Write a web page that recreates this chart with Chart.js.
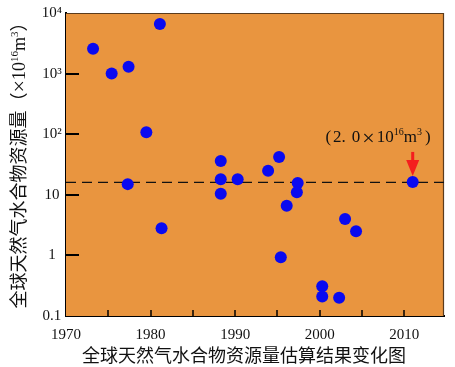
<!DOCTYPE html>
<html>
<head>
<meta charset="utf-8">
<script src="https://cdn.jsdelivr.net/npm/chart.js@4"></script>
<style>
    html, body { margin: 0; padding: 0; background: #fff; }
    #wrap { width: 455px; height: 367px; }
</style>
</head>
<body>
<div id="wrap"><canvas id="chart" width="455" height="367"></canvas></div>
<script>
// estimates (years, amount in 10^16 m3)
const years   = [1973.2, 1975.4, 1977.4, 1981.1, 1979.5, 1977.3, 1981.3, 1988.3, 1988.3, 1988.3, 1990.3, 1993.9, 1995.2, 1997.4, 1997.3, 1996.1, 1995.4, 2000.3, 2000.3, 2002.3, 2003.0, 2004.3, 2011.0];
const amounts = [2570, 1000, 1300, 6600, 108, 15, 2.8, 36, 18, 10.4, 18, 25, 42, 15.7, 11, 6.6, 0.93, 0.31, 0.21, 0.20, 4.0, 2.5, 16.3];

const yTickValues = [0.1, 1, 10, 100, 1000, 10000];
const yTickLabels = ['0.1', '1', '10', '10²', '10³', '10⁴'];
const xTickValues = [1970, 1980, 1990, 2000, 2010];
const referenceLevel = 16;
const xMin = 1970, xMax = 2014.7;

const yTitleMain = '全球天然气水合物资源量';
const xTitle = '全球天然气水合物资源量估算结果变化图';

const ORANGE = '#E9953F';
const CJK = '"Noto Sans CJK SC", sans-serif';
const SERIF = '"Liberation Serif", "DejaVu Serif", serif';

// draw a row of text pieces (different fonts / superscripts), centred on cx
function drawRuns(ctx, runs, cx, baseline) {
    ctx.textAlign = 'left';
    ctx.textBaseline = 'alphabetic';
    let total = 0;
    runs.forEach(r => { ctx.font = r.font; r.w = ctx.measureText(r.text).width + (r.gap || 0); total += r.w; });
    let x = cx - total / 2;
    runs.forEach(r => {
        ctx.font = r.font;
        ctx.fillText(r.text, x, baseline - (r.rise || 0));
        x += r.w;
    });
}

// orange plot area, frame, inward ticks, titles and the red arrow
const decorPlugin = {
    id: 'decor',
    beforeDatasetsDraw(chart) {
        const { ctx, chartArea: a, scales } = chart;
        ctx.save();
        ctx.fillStyle = ORANGE;
        ctx.fillRect(a.left, a.top, a.right - a.left, a.bottom - a.top);

        // thin top/right frame
        ctx.strokeStyle = '#5b3b1c';
        ctx.lineWidth = 1.2;
        ctx.beginPath();
        ctx.moveTo(a.left, a.top + 0.5);
        ctx.lineTo(a.right - 0.5, a.top + 0.5);
        ctx.lineTo(a.right - 0.5, a.bottom);
        ctx.stroke();

        // y ticks (decades), pointing inward
        ctx.strokeStyle = '#000';
        ctx.lineWidth = 2;
        yTickValues.forEach(v => {
            if (v <= 0.1 || v >= 10000) return;
            const y = Math.round(scales.y.getPixelForValue(v));
            ctx.beginPath();
            ctx.moveTo(a.left, y);
            ctx.lineTo(a.left + 13, y);
            ctx.stroke();
        });
        // x ticks every 5 years, pointing inward
        ctx.lineWidth = 1.5;
        for (let yr = 1975; yr < xMax; yr += 5) {
            const x = Math.round(scales.x.getPixelForValue(yr));
            ctx.beginPath();
            ctx.moveTo(x, a.bottom);
            ctx.lineTo(x, a.bottom - 6);
            ctx.stroke();
        }
        ctx.restore();
    },
    afterDraw(chart) {
        const { ctx, scales } = chart;
        ctx.save();
        ctx.fillStyle = '#111';

        // x title
        ctx.textAlign = 'center';
        ctx.textBaseline = 'middle';
        ctx.font = '18px ' + CJK;
        ctx.fillText(xTitle, 244, 355);

        // y title, rotated
        ctx.save();
        ctx.translate(25, 161);
        ctx.rotate(-Math.PI / 2);
        drawRuns(ctx, [
            { text: yTitleMain, font: '18px ' + CJK },
            { text: '（', font: '18px ' + CJK },
            { text: '×', font: '22px ' + SERIF, rise: -1 },
            { text: '10', font: '18px ' + SERIF },
            { text: '16', font: '11px ' + SERIF, rise: 7 },
            { text: 'm', font: '18px ' + SERIF },
            { text: '3', font: '11px ' + SERIF, rise: 7 },
            { text: '）', font: '18px ' + CJK }
        ], 0, 0);
        ctx.restore();

        // note above the latest estimate
        const last = years.length - 1;
        const px = scales.x.getPixelForValue(years[last]);
        const py = scales.y.getPixelForValue(amounts[last]);
        drawRuns(ctx, [
            { text: '(', font: '17px ' + SERIF, gap: 2 },
            { text: '2.', font: '17px ' + SERIF, gap: 6 },
            { text: '0', font: '17px ' + SERIF, gap: 2 },
            { text: '×', font: '22px ' + SERIF, rise: -3, gap: 2 },
            { text: '10', font: '17px ' + SERIF },
            { text: '16', font: '10px ' + SERIF, rise: 7 },
            { text: 'm', font: '17px ' + SERIF },
            { text: '3', font: '10px ' + SERIF, rise: 7, gap: 3 },
            { text: ')', font: '17px ' + SERIF }
        ], 378, 142);

        // red arrow down to the point
        ctx.fillStyle = '#F41E1E';
        const tip = py - 6;
        ctx.fillRect(px - 1.5, tip - 24, 3, 10);
        ctx.beginPath();
        ctx.moveTo(px - 6.5, tip - 16);
        ctx.lineTo(px + 6.5, tip - 16);
        ctx.lineTo(px, tip);
        ctx.closePath();
        ctx.fill();
        ctx.restore();
    }
};

new Chart(document.getElementById('chart'), {
    type: 'scatter',
    data: {
        datasets: [
            {
                data: years.map((yr, i) => ({ x: yr, y: amounts[i] })),
                backgroundColor: '#0A0AF0',
                borderWidth: 0,
                pointRadius: 6,
                order: 0
            },
            {
                type: 'line',
                data: [{ x: xMin, y: referenceLevel }, { x: xMax, y: referenceLevel }],
                borderColor: '#111',
                borderWidth: 1.3,
                borderDash: [10, 6],
                pointRadius: 0,
                order: 1
            }
        ]
    },
    options: {
        responsive: false,
        animation: false,
        layout: { padding: { top: 11, right: 11, left: 0, bottom: 0 } },
        plugins: {
            legend: { display: false },
            tooltip: { enabled: false }
        },
        scales: {
            x: {
                type: 'linear',
                min: xMin,
                max: xMax,
                afterFit: s => { s.height = 51; },
                afterBuildTicks: s => { s.ticks = xTickValues.map(v => ({ value: v })); },
                grid: { display: false, drawTicks: false },
                border: { display: true, color: '#000', width: 2 },
                ticks: {
                    padding: 10,
                    color: '#111',
                    font: { family: SERIF, size: 15 },
                    callback: v => String(v)
                }
            },
            y: {
                type: 'logarithmic',
                min: 0.1,
                max: 10000,
                afterFit: s => { s.width = 66; },
                afterBuildTicks: s => { s.ticks = yTickValues.map(v => ({ value: v })); },
                grid: { display: false, drawTicks: false },
                border: { display: true, color: '#000', width: 2 },
                ticks: {
                    padding: 4,
                    crossAlign: 'center',
                    color: '#111',
                    font: { family: SERIF, size: 15 },
                    callback: v => yTickLabels[yTickValues.indexOf(v)] ?? ''
                }
            }
        }
    },
    plugins: [decorPlugin]
});
</script>
</body>
</html>
